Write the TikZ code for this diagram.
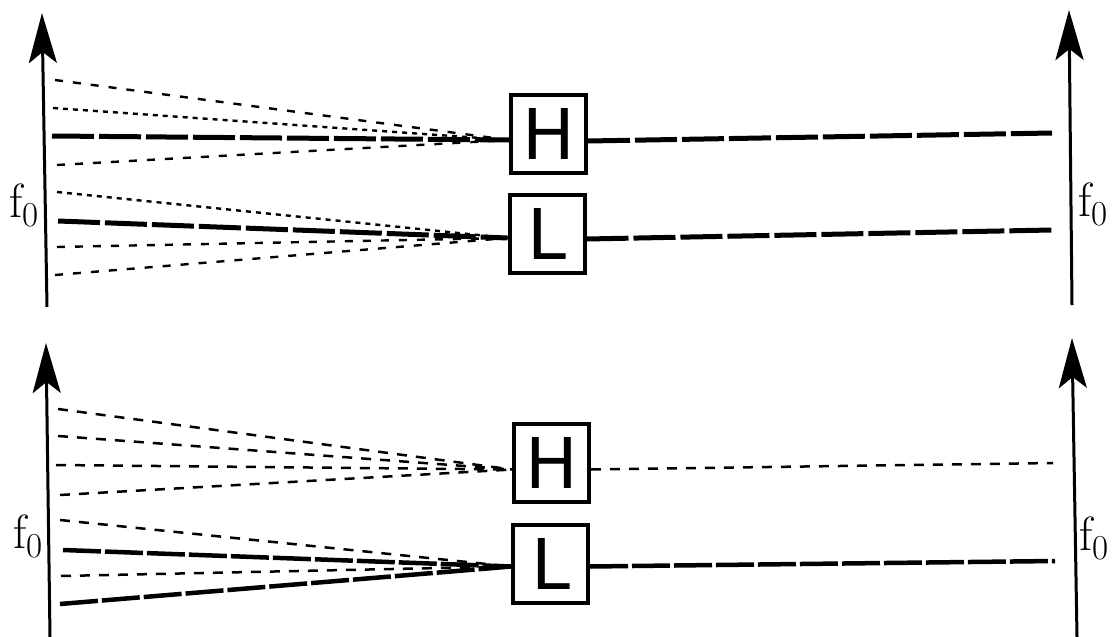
\documentclass[tikz,border=0pt]{standalone}
\usepackage{fontspec}
\setsansfont{DejaVu Sans}
\usetikzlibrary{arrows.meta}

\tikzset{
    axis/.style={line width=3pt, -{Stealth[length=50pt, width=28pt, inset=11pt]}},
    level/.style={draw, line width=4pt, minimum width=75pt, minimum height=78pt,
        inner sep=0pt, font=\sffamily\fontsize{70}{70}\selectfont},
    mainpath/.style={line width=5pt, dash pattern=on 42pt off 5pt},
    mainpathb/.style={line width=4.5pt, dash pattern=on 38pt off 4pt},
    altpath/.style={line width=2.4pt, dash pattern=on 8pt off 10pt},
    shortpath/.style={line width=2.4pt, dash pattern=on 5pt off 5pt},
    altpathb/.style={line width=2.5pt, dash pattern=on 10pt off 9pt},
    flabel/.style={inner sep=0pt, font=\fontsize{48}{48}\selectfont},
}
\newcommand{\fnull}{f\kern0.5pt\raisebox{-9pt}{\fontsize{35}{35}\selectfont 0}}

\begin{document}
\begin{tikzpicture}[x=1pt, y=-1pt]
    \useasboundingbox (0,0) rectangle (1112,637);

    % upper panel: both f0 axes
    \coordinate (ulb) at (47,307);  \coordinate (ult) at (42,13);
    \coordinate (urb) at (1072,305); \coordinate (urt) at (1069,10);
    \draw[axis] (ulb) -- (ult);
    \draw[axis] (urb) -- (urt);
    \node[flabel] (ulf) at (24,205) {\fnull};
    \node[flabel] (urf) at (1093,204) {\fnull};

    % upper panel: the two levels
    \node[level] (Hup) at (548.5,134) {H};
    \node[level] (Lup) at (547,234) {L};

    % paths into the levels
    \foreach \x/\y/\s in {55/80/altpath, 53/108/shortpath, 52/136/mainpath, 57/165/altpath}{
        \coordinate (hu\y) at (\x,\y);
        \draw[\s] (hu\y) -- ([yshift=-6pt]Hup.west);
    }
    \foreach \x/\y/\s in {57/192/shortpath, 58/221/mainpath, 57/247/altpath, 55/275/altpath}{
        \coordinate (lu\y) at (\x,\y);
        \draw[\s] (lu\y) -- ([yshift=-4pt]Lup.west);
    }
    % paths out of the levels
    \coordinate (huo) at (1052,133);
    \coordinate (luo) at (1052,230);
    \draw[mainpath] ([yshift=-7pt]Hup.east) -- (huo);
    \draw[mainpath] ([yshift=-5pt]Lup.east) -- (luo);

    % lower panel: both f0 axes
    \coordinate (dlb) at (50,637);  \coordinate (dlt) at (46,343);
    \coordinate (drb) at (1077,637); \coordinate (drt) at (1072,338);
    \draw[axis] (dlb) -- (dlt);
    \draw[axis] (drb) -- (drt);
    \node[flabel] (dlf) at (28,536) {\fnull};
    \node[flabel] (drf) at (1094,538) {\fnull};

    % lower panel: the two levels
    \node[level] (Hdn) at (551.5,462.5) {H};
    \node[level] (Ldn) at (550.5,563.5) {L};

    % paths into the levels
    \foreach \x/\y/\s in {58/409/altpathb, 58/436/altpathb, 56/465/altpathb, 60/495/altpathb}{
        \coordinate (hd\y) at (\x,\y);
        \draw[\s] (hd\y) -- ([yshift=-7pt]Hdn.west);
    }
    \foreach \x/\y/\s in {60/520/altpathb, 63/550/mainpathb, 61/576/altpathb, 60/604/mainpathb}{
        \coordinate (ld\y) at (\x,\y);
        \draw[\s] (ld\y) -- ([yshift=-3pt]Ldn.west);
    }
    % paths out of the levels
    \coordinate (hdo) at (1053,463);
    \coordinate (ldo) at (1055,561);
    \draw[altpathb] ([yshift=-7pt]Hdn.east) -- (hdo);
    \draw[mainpathb] ([yshift=-3pt]Ldn.east) -- (ldo);
\end{tikzpicture}
\end{document}
